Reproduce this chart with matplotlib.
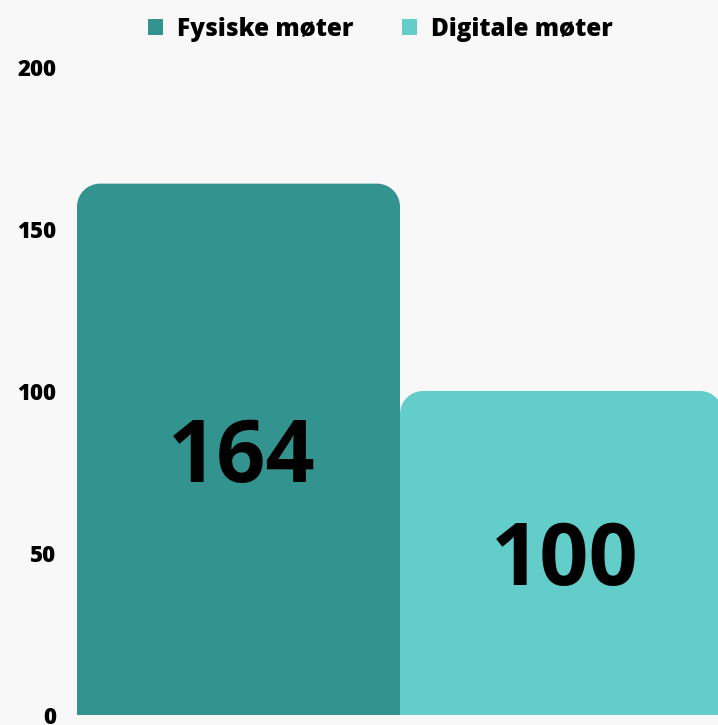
import matplotlib
matplotlib.use("Agg")
import matplotlib.pyplot as plt
from matplotlib.path import Path
from matplotlib.patches import PathPatch, Patch

categories = ["Fysiske møter", "Digitale møter"]
values = [164, 100]
colors = ["#33948F", "#63CDC9"]
yticks = [0, 50, 100, 150, 200]

plt.rcParams['font.family'] = ['Open Sans', 'DejaVu Sans']

W, H = 718, 725
fig = plt.figure(figsize=(W / 100, H / 100), dpi=100, facecolor="#F8F8F8")
left, right, bottom, top = 77, 723, 715, 67
ax = fig.add_axes([left / W, (H - bottom) / H, (right - left) / W, (bottom - top) / H])
ax.set_facecolor("#F8F8F8")

xs = list(range(len(values)))
bars = ax.bar(xs, values, width=1.0, color=colors, alpha=0)
ax.set_xlim(-0.5, len(values) - 0.5)
ax.set_ylim(0, 200)

# rounded top corners (radius in pixels converted to data units)
rad_px = 23
px_x = (len(values)) / (right - left)
px_y = 200 / (bottom - top)
rx, ry = rad_px * px_x, rad_px * px_y
k = 0.5523
for b, c in zip(bars, colors):
    x0 = b.get_x(); w = b.get_width(); h = b.get_height()
    x1 = x0 + w
    verts = [
        (x0, 0), (x0, h - ry),
        (x0, h - ry + k * ry), (x0 + rx - k * rx, h), (x0 + rx, h),
        (x1 - rx, h),
        (x1 - rx + k * rx, h), (x1, h - ry + k * ry), (x1, h - ry),
        (x1, 0), (x0, 0),
    ]
    codes = [Path.MOVETO, Path.LINETO,
             Path.CURVE4, Path.CURVE4, Path.CURVE4,
             Path.LINETO,
             Path.CURVE4, Path.CURVE4, Path.CURVE4,
             Path.LINETO, Path.CLOSEPOLY]
    ax.add_patch(PathPatch(Path(verts, codes), facecolor=c, edgecolor="none", clip_on=False))
    ax.annotate(f"{int(h)}", xy=(b.get_x() + w / 2, h / 2), xytext=(3, -10),
                textcoords="offset pixels", ha="center", va="center",
                fontsize=62, fontweight="bold", color="black")

for s in ax.spines.values():
    s.set_visible(False)
ax.set_xticks([])
ax.set_yticks(yticks)
ax.set_yticklabels([str(t) for t in yticks], fontsize=16, fontweight=800)
ax.tick_params(axis="y", length=0, pad=15)

handles = [Patch(facecolor=c, edgecolor="none") for c in colors]
fig.legend(handles, categories, loc="center", bbox_to_anchor=(0.53, 0.96), ncol=2,
           frameon=False, prop={"weight": 800, "size": 17.5},
           handlelength=0.6, handleheight=0.6, handletextpad=0.6, columnspacing=2.0)

fig.savefig("out.png", dpi=100, facecolor=fig.get_facecolor())
